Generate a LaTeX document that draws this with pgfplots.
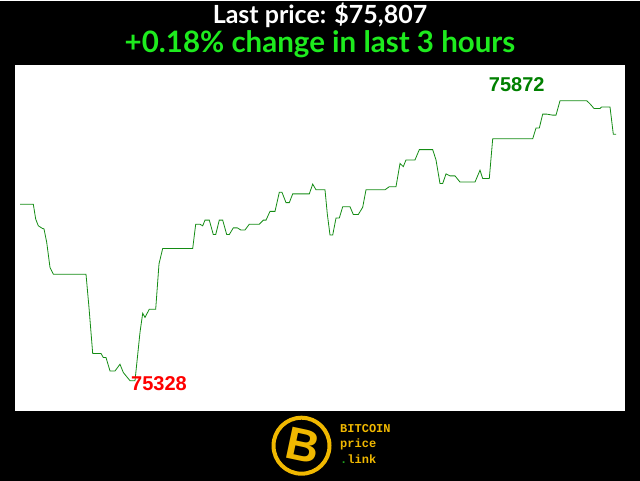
\documentclass[border=0pt]{standalone}
\usepackage{fontspec}
\setmainfont{Lato}
\newfontfamily\labelfont{Liberation Sans}
\newfontfamily\monofont{Liberation Mono}
\usepackage{pgfplots}
\pgfplotsset{compat=1.18}

\definecolor{linegreen}{RGB}{20,140,20}
\definecolor{labgreen}{RGB}{0,128,0}
\definecolor{titlegreen}{RGB}{30,235,30}
\definecolor{gold}{RGB}{240,184,0}
\definecolor{dotgreen}{RGB}{30,160,30}

\pgfplotstableread{
x p
20 75671
33.3 75671
35.7 75642
38.3 75629
42.3 75624
44 75623
46.7 75597
50 75548
53.3 75535
86 75535
89 75470
92.7 75381
101 75381
103.3 75373
106 75373
110 75347
115 75347
120 75360
123.3 75344
130 75328
135 75328
140 75422
142.7 75459
145 75451
149.3 75467
155.7 75467
159 75555
162.7 75585
192.7 75585
195.7 75632
200 75632
202.7 75629
205 75640
209.3 75640
213.3 75612
215.7 75612
219.3 75640
222.7 75640
226.7 75612
229.3 75612
233.3 75625
237.3 75625
240.7 75621
245 75621
249.3 75632
259.3 75632
263.3 75640
266 75640
270 75657
275 75657
279.3 75694
282 75694
286 75674
289.3 75674
292.7 75691
309.3 75691
312.7 75710
316 75699
325 75699
327.3 75652
330 75611
332.7 75611
336 75644
339.3 75644
342.7 75666
350 75666
353.3 75651
358.3 75651
362.7 75665
366 75699
385 75699
389.3 75705
396 75705
400 75750
403.3 75744
406 75757
415 75757
419.3 75777
432.7 75777
436 75757
440 75711
442.7 75711
446 75730
450 75726
455 75726
460 75714
475 75714
480 75737
482.7 75721
489.3 75721
492.7 75798
532.7 75798
536 75819
539.3 75819
542.7 75846
546.7 75846
552.7 75844
556 75844
560 75872
586.7 75872
590 75866
594 75857
600 75857
601.7 75860
610 75860
613.3 75807
616 75807
}\pricedata

\begin{document}
\begin{tikzpicture}[x=1pt,y=1pt]
  % black canvas, 640 x 480
  \fill[black] (0,0) rectangle (640,480);

  % titles
  \node[text=white, font=\fontsize{25}{25}\bfseries\selectfont] at (320,465) {Last price: \$75,807};
  \node[text=titlegreen, font=\fontsize{29.5}{29.5}\bfseries\selectfont] at (320,437) {+0.18\% change in last 3 hours};

  \begin{axis}[
      at={(15pt,70pt)}, anchor=south west,
      scale only axis, width=610pt, height=346pt,
      xmin=15, xmax=625, ymin=75269.7, ymax=75942,
      axis background/.style={fill=white},
      axis line style={draw=none},
      xtick=\empty, ytick=\empty,
      clip=false
    ]
    \addplot[linegreen, line width=0.8pt] table[x=x, y=p] {\pricedata};
    \node[text=labgreen, font=\labelfont\fontsize{20}{20}\bfseries\selectfont] at (axis cs:516.7,75903) {75872};
    \node[text=red, font=\labelfont\fontsize{20}{20}\bfseries\selectfont] at (axis cs:159,75322) {75328};
  \end{axis}

  % logo
  \draw[gold, line width=4pt] (301.5,35) circle (28pt);
  \node[text=gold, rotate=-12, font=\labelfont\fontsize{46}{46}\bfseries\selectfont] at (303,35) {B};
  \node[text=gold, anchor=west, inner sep=0pt, align=left,
        font=\monofont\fontsize{12}{15.5}\bfseries\selectfont] at (340,37)
        {BITCOIN\\price\\\textcolor{dotgreen}{.}link};
\end{tikzpicture}
\end{document}
